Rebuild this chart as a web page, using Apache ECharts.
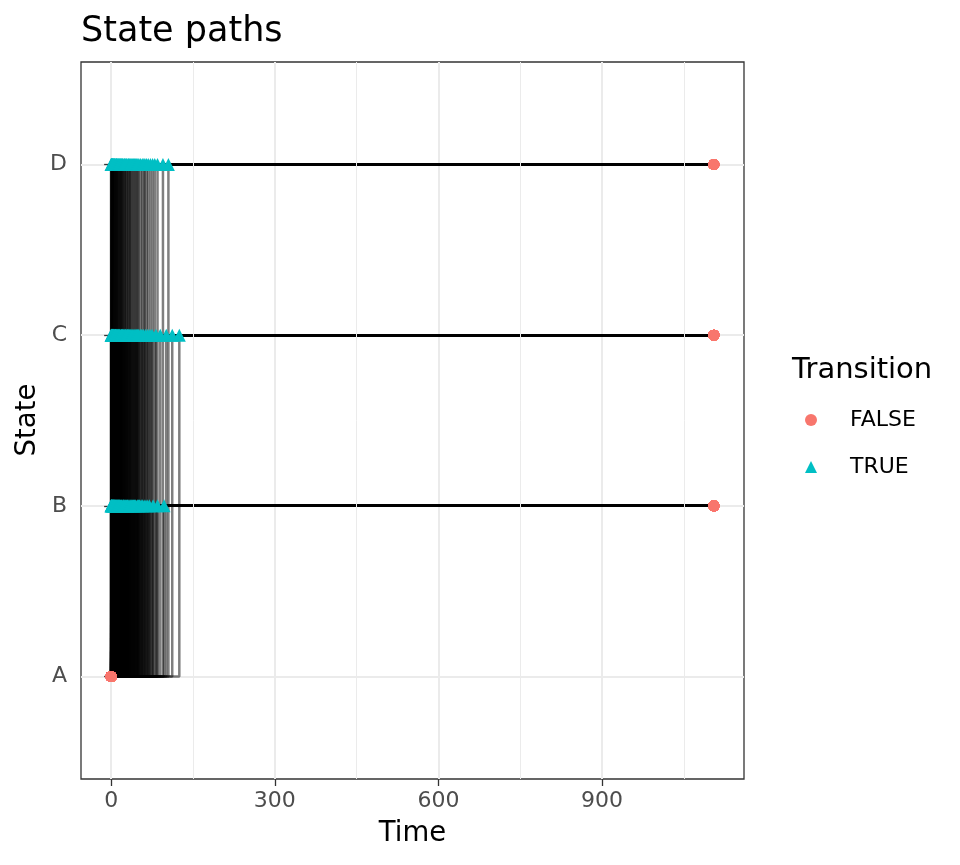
<!DOCTYPE html>
<html>
<head>
<meta charset="utf-8">
<script src="https://cdn.jsdelivr.net/npm/echarts@6/dist/echarts.min.js"></script>
<style>
  html, body { margin: 0; padding: 0; background: #fff; }
  #chart { width: 960px; height: 865px; }
</style>
</head>
<body>
<div id="chart"></div>
<script>
// states on the y axis (A = 1 ... D = 4)
const stateLabels = ['A', 'B', 'C', 'D']
const endTime = 1105
const xTicks = [0, 300, 600, 900]
const xMinorTicks = [150, 450, 750, 1050]

// transition times (from A), one entry per path
const timesToB = [0, 0, 0, 1, 1, 2, 2, 3, 4, 4, 5, 6, 7, 7, 8, 9, 10, 11, 12, 13, 14, 15, 16, 17, 19, 20, 22, 23, 25, 26, 28, 30, 31, 33, 35, 37, 39, 41, 43, 45, 48, 50, 52, 55, 58, 62, 66, 70, 77, 85, 97]
const timesToC = [0, 0, 1, 1, 2, 2, 3, 3, 4, 5, 5, 6, 7, 8, 8, 9, 10, 11, 12, 13, 14, 15, 16, 18, 19, 20, 21, 23, 24, 26, 27, 29, 30, 32, 34, 36, 38, 40, 42, 44, 46, 48, 50, 53, 56, 59, 63, 67, 71, 75, 82, 90, 101, 112, 125]
const timesToD = [0, 0, 1, 1, 1, 2, 2, 3, 3, 4, 4, 5, 6, 6, 7, 8, 9, 10, 10, 11, 12, 13, 14, 15, 16, 17, 18, 19, 20, 21, 22, 24, 25, 26, 28, 29, 31, 32, 34, 35, 37, 39, 41, 43, 45, 47, 49, 51, 54, 57, 60, 62, 65, 68, 72, 76, 80, 85, 95, 105]

const paths = []
;[[2, timesToB], [3, timesToC], [4, timesToD]].forEach(([s, times]) => {
  times.forEach(t => paths.push({ state: s, time: t }))
})

// one line per path so the alpha stacks like in the original
const lineSeries = paths.map(p => ({
  type: 'line',
  silent: true,
  symbol: 'none',
  z: 1,
  lineStyle: { color: '#000', width: 2.5, opacity: 0.5 },
  data: [[0, 1], [p.time, 1], [p.time, p.state], [endTime, p.state]]
}))

const falsePoints = []
const truePoints = []
paths.forEach(p => {
  falsePoints.push([0, 1])
  falsePoints.push([endTime, p.state])
  truePoints.push([p.time, p.state])
})

const font = 'DejaVu Sans'
const option = {
  animation: false,
  title: [
    {
      text: 'State paths',
      left: 76,
      top: 9,
      textStyle: { fontFamily: font, fontSize: 35, fontWeight: 'normal', color: '#000' }
    },
    {
      text: 'Transition',
      left: 787,
      top: 351,
      textStyle: { fontFamily: font, fontSize: 29, fontWeight: 'normal', color: '#000' }
    }
  ],
  // y axis title, placed by hand
  graphic: [
    {
      type: 'text',
      x: 28,
      y: 420,
      rotation: Math.PI / 2,
      style: {
        text: 'State',
        fontFamily: font,
        fontSize: 27.5,
        fill: '#000',
        align: 'center',
        verticalAlign: 'middle'
      }
    }
  ],
  legend: {
    orient: 'vertical',
    left: 805,
    top: 409,
    padding: 0,
    itemWidth: 12,
    itemHeight: 12,
    itemGap: 25,
    selectedMode: false,
    textStyle: { fontFamily: font, fontSize: 22, color: '#000', padding: [0, 0, 0, 28] },
    data: [
      { name: 'FALSE', icon: 'circle' },
      { name: 'TRUE', icon: 'triangle' }
    ]
  },
  grid: {
    left: 81,
    right: 216,
    top: 62,
    bottom: 86,
    outerBoundsMode: 'none',
    show: true,
    borderColor: '#333333',
    borderWidth: 1.3,
    backgroundColor: '#fff'
  },
  xAxis: {
    type: 'value',
    min: -0.05 * endTime,
    max: 1.05 * endTime,
    name: 'Time',
    nameLocation: 'middle',
    nameGap: 41,
    nameTextStyle: { fontFamily: font, fontSize: 27.5, color: '#000' },
    axisLine: { show: false },
    axisTick: { show: true, length: 7, customValues: xTicks, lineStyle: { color: '#333', width: 1.3 } },
    axisLabel: { customValues: xTicks, margin: 11, fontFamily: font, fontSize: 22, color: '#4D4D4D' },
    splitLine: { show: true, lineStyle: { color: '#EBEBEB', width: 2 } }
  },
  yAxis: {
    type: 'value',
    min: 0.4,
    max: 4.6,
    axisLine: { show: false },
    axisTick: { show: true, length: 7, customValues: [1, 2, 3, 4], lineStyle: { color: '#333', width: 1.3 } },
    axisLabel: {
      customValues: [1, 2, 3, 4],
      margin: 14,
      fontFamily: font,
      fontSize: 22,
      color: '#4D4D4D',
      formatter: v => stateLabels[Math.round(v) - 1]
    },
    splitLine: { show: true, lineStyle: { color: '#EBEBEB', width: 2 } }
  },
  series: [
    {
      // minor vertical grid lines
      type: 'scatter',
      silent: true,
      z: 0,
      data: [],
      markLine: {
        silent: true,
        symbol: 'none',
        label: { show: false },
        lineStyle: { color: '#EBEBEB', width: 1, type: 'solid' },
        data: xMinorTicks.map(v => ({ xAxis: v }))
      }
    },
    ...lineSeries,
    {
      name: 'FALSE',
      type: 'scatter',
      symbol: 'circle',
      symbolSize: 11,
      z: 3,
      itemStyle: { color: '#F8766D', opacity: 1 },
      data: falsePoints
    },
    {
      name: 'TRUE',
      type: 'scatter',
      symbol: 'triangle',
      symbolSize: 13,
      z: 3,
      itemStyle: { color: '#00BFC4', opacity: 1 },
      data: truePoints
    }
  ]
}

const myChart = echarts.init(document.getElementById('chart'))
myChart.setOption(option)
window.addEventListener('resize', () => {
  myChart.resize()
})
</script>
</body>
</html>
